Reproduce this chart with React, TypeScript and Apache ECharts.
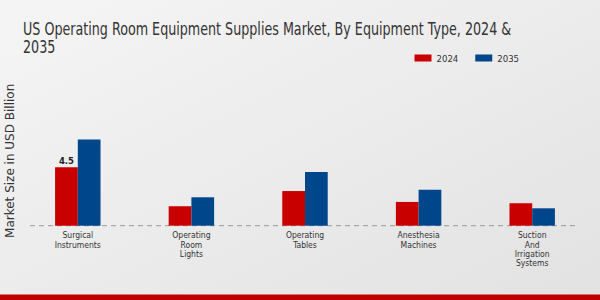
import React, { useEffect, useRef } from "react";
import * as echarts from "echarts";

const categories = [
  "Surgical\nInstruments",
  "Operating\nRoom\nLights",
  "Operating\nTables",
  "Anesthesia\nMachines",
  "Suction\nAnd\nIrrigation\nSystems",
];
const values2024 = [4.5, 1.5, 2.67, 1.83, 1.73];
const values2035 = [6.65, 2.19, 4.14, 2.77, 1.34];
const seriesNames = ["2024", "2035"];
const titleText =
  "US Operating Room Equipment Supplies Market, By Equipment Type, 2024 &\n2035";

export default function App() {
  const ref = useRef<HTMLDivElement>(null);
  useEffect(() => {
    const chart = echarts.init(ref.current!, null, { renderer: "svg" });
    const cond = "'DejaVu Sans Condensed', 'DejaVu Sans', sans-serif";
    const sans = "'DejaVu Sans', sans-serif";
    chart.setOption({
      animation: false,
      backgroundColor: {
        type: "linear",
        x: 0,
        y: 0,
        x2: 1,
        y2: 1,
        colorStops: [
          { offset: 0, color: "#f5f5f5" },
          { offset: 1, color: "#e2e2e2" },
        ],
      },
      legend: {
        data: seriesNames,
        right: 76,
        top: 48,
        itemWidth: 17,
        itemHeight: 7,
        itemGap: 17,
        icon: "rect",
        textStyle: { fontFamily: cond, fontSize: 9.5, color: "#333" },
      },
      grid: {
        left: 21,
        right: 11,
        top: 95.9,
        bottom: 74.3,
        containLabel: false,
        outerBoundsMode: "none",
      },
      xAxis: {
        type: "category",
        data: categories,
        axisLine: { show: false },
        axisTick: { show: false },
        axisLabel: {
          fontFamily: cond,
          fontSize: 8.5,
          lineHeight: 9.3,
          color: "#333",
          margin: 5,
          interval: 0,
        },
      },
      yAxis: {
        type: "value",
        min: 0,
        max: 10,
        name: "Market Size in USD Billion",
        nameLocation: "middle",
        nameGap: 5.5,
        nameTextStyle: { fontFamily: sans, fontSize: 12, color: "#333" },
        axisLabel: { show: false },
        axisLine: { show: false },
        axisTick: { show: false },
        splitLine: { show: false },
      },
      series: [
        {
          name: seriesNames[0],
          type: "bar",
          data: values2024.map((v, i) =>
            i === 0
              ? {
                  value: v,
                  label: {
                    show: true,
                    position: "top",
                    fontFamily: cond,
                    fontWeight: "bold",
                    fontSize: 9.5,
                    color: "#222",
                    distance: 2,
                  },
                }
              : v
          ),
          barWidth: "20%",
          barGap: "0%",
          itemStyle: { color: "#c80000" },
        },
        {
          name: seriesNames[1],
          type: "bar",
          data: values2035,
          barWidth: "20%",
          itemStyle: { color: "#00468b" },
        },
      ],
      graphic: [
        {
          type: "text",
          x: 23,
          y: 20,
          scaleX: 0.785,
          style: {
            text: titleText,
            fontFamily: cond,
            fontSize: 18,
            lineHeight: 18,
            fill: "#333",
            textVerticalAlign: "top",
          },
        },
        {
          type: "line",
          shape: { x1: 30, y1: 225.7, x2: 579, y2: 225.7 },
          style: { stroke: "#999", lineWidth: 1, lineDash: [5, 4] },
          z: 0,
        },
        {
          type: "rect",
          shape: { x: 0, y: 294.5, width: 600, height: 5.5 },
          style: { fill: "#c00000" },
        },
      ],
    });
    return () => chart.dispose();
  }, []);
  return (
    <div
      ref={ref}
      style={{ width: 600, height: 300, position: "absolute", left: 0, top: 0 }}
    />
  );
}
